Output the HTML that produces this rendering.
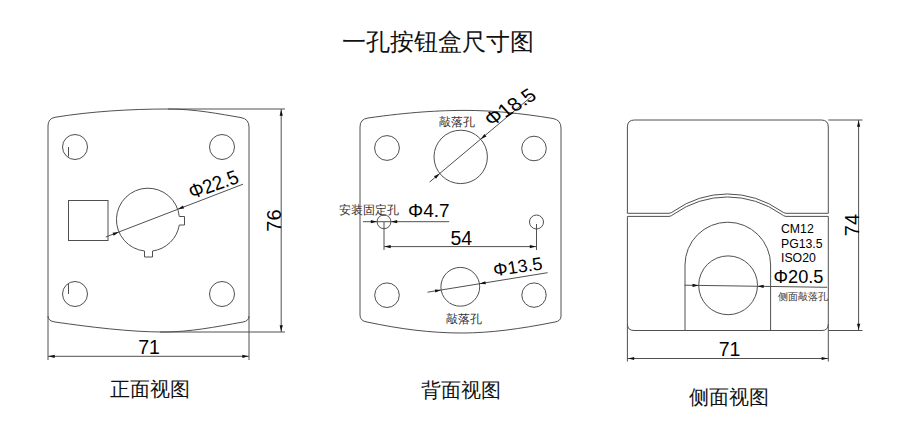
<!DOCTYPE html>
<html><head><meta charset="utf-8">
<style>
html,body{margin:0;padding:0;background:#fff;width:910px;height:437px;overflow:hidden}
svg{display:block}
.l{fill:none;stroke:#505050;stroke-width:1}
.a{fill:#111;stroke:none}
.n{font-family:"Liberation Sans",sans-serif;fill:#000}
.c{font-family:"Liberation Serif",serif;fill:#111}
.s{font-family:"Liberation Serif",serif;fill:#333}
</style></head><body>
<svg width="910" height="437" viewBox="0 0 910 437">
<text class="c" x="342" y="50" font-size="24">一孔按钮盒尺寸图</text>
<path class="l" d="M48 126 Q48 118.5 55 117.3 C90 111.5 130 109 168 109 C195 109 220 114 241 117.6 Q249 119 249 127 L249 316 Q249 321 243 322 C215 327 190 332 163 332 C130 332 90 327 55 322 Q48 321 48 316 Z"/>
<circle class="l" cx="75" cy="147" r="12.5"/>
<circle class="l" cx="222" cy="147" r="12.5"/>
<circle class="l" cx="75" cy="294" r="12.5"/>
<circle class="l" cx="222" cy="294" r="12.5"/>
<path class="l" d="M68.5 147V156.5M68.5 284V294"/>
<rect class="l" x="68.5" y="200.5" width="39.5" height="40"/>
<path class="l" d="M179.3 216.5 H184.5 V225 H179.3 M144.5 251 V257 H152.5 V251"/>
<path class="l" d="M179.3 216.5 A31.5 31.5 0 1 0 144.5 251 M152.5 251 A31.5 31.5 0 0 0 179.3 225"/>
<path class="l" d="M105.8 237 L243 184.2"/>
<path class="a" d="M118.94 231.94L113.72 235.67L112.57 232.68Z"/>
<path class="a" d="M177.71 209.33L182.92 205.61L184.07 208.59Z"/>
<text class="n" font-size="20" transform="translate(192 199) rotate(-19) skewX(4) scale(0.93 1)">Φ22.5</text>
<path class="l" d="M168 109H285M160 332H285M281.2 109V332"/>
<path class="a" d="M281.20 109.50L282.80 115.70L279.60 115.70Z"/>
<path class="a" d="M281.20 331.50L279.60 325.30L282.80 325.30Z"/>
<path class="l" d="M48 316V360M249 316V360M48 356.3H249"/>
<path class="a" d="M48.50 356.30L54.70 354.70L54.70 357.90Z"/>
<path class="a" d="M248.50 356.30L242.30 357.90L242.30 354.70Z"/>
<text class="n" font-size="19.5" x="149" y="354" text-anchor="middle">71</text>
<text class="n" font-size="20" transform="translate(281 220.5) rotate(-90)" text-anchor="middle">76</text>
<path class="l" d="M360 127 Q360 119 368 118 C410 112 440 110.4 466 110.4 C490 110.4 520 113 553 118.5 Q561 120 561 128 L561 316 Q561 321 555 322 C520 329 490 333 462 333 C430 333 400 329 367 322 Q360 321 360 315 Z"/>
<circle class="l" cx="387" cy="148" r="12.4"/>
<circle class="l" cx="534" cy="148.5" r="12.3"/>
<circle class="l" cx="387" cy="295.2" r="12.3"/>
<circle class="l" cx="534" cy="295.1" r="12.2"/>
<circle class="l" cx="460.7" cy="156.9" r="26.7"/>
<circle class="l" cx="460.3" cy="286.8" r="19.4"/>
<circle class="l" cx="384" cy="221.8" r="6.9"/>
<circle class="l" cx="536.5" cy="222" r="7"/>
<text class="s" font-size="11.8" x="439" y="126">敲落孔</text>
<text class="s" font-size="11.8" x="446" y="322.6">敲落孔</text>
<text class="s" font-size="11.5" x="338.5" y="213.8">安装固定孔</text>
<path class="l" d="M429.6 182 L531.5 96.5"/>
<path class="a" d="M439.76 173.47L436.04 178.68L433.99 176.23Z"/>
<path class="a" d="M480.66 139.16L484.38 133.95L486.43 136.40Z"/>
<text class="n" font-size="20" transform="translate(491.5 126.8) rotate(-32) skewX(10)">Φ18.5</text>
<path class="l" d="M363 221.7H449.2M384 222V250M536.5 224V250M384 246.6H536.5"/>
<path class="a" d="M377.00 221.70L370.80 223.30L370.80 220.10Z"/>
<path class="a" d="M391.00 221.70L397.20 220.10L397.20 223.30Z"/>
<path class="a" d="M384.50 246.60L390.70 245.00L390.70 248.20Z"/>
<path class="a" d="M536.00 246.60L529.80 248.20L529.80 245.00Z"/>
<text class="n" font-size="19" x="408" y="217">Φ4.7</text>
<text class="n" font-size="19.5" x="450.5" y="244.8">54</text>
<path class="l" d="M427.5 292.2 L547.6 272.7"/>
<path class="a" d="M441.16 289.98L435.30 292.55L434.79 289.40Z"/>
<path class="a" d="M479.46 283.76L485.32 281.19L485.84 284.35Z"/>
<text class="n" font-size="18" transform="translate(494.3 276.2) rotate(-8) skewX(1)">Φ13.5</text>
<path class="l" d="M627.4 213.3 V127 Q627.4 120 634.4 120 H821.3 Q828.3 120 828.3 127 V213.3 H786 Q784 213.3 781 211 A92.6 92.6 0 0 0 674 211 Q671 213.3 669 213.3 Z"/>
<path class="l" d="M627.4 216.4 V324 Q627.4 330.5 634 330.5 H822 Q828.3 330.5 828.3 324 V216.4 H786 Q784 216.4 781 214 A92.6 92.6 0 0 0 674 214 Q671 216.4 669 216.4 Z"/>
<path class="l" d="M685 330.5 V265 A42.8 42.8 0 0 1 770.6 265 V330.5"/>
<circle class="l" cx="728.1" cy="285.3" r="29.4"/>
<path class="l" d="M684.6 285.2 L827.2 287.3"/>
<path class="a" d="M698.70 285.41L692.48 286.92L692.52 283.72Z"/>
<path class="a" d="M757.48 286.27L763.71 284.76L763.66 287.96Z"/>
<g transform="translate(781 233.3) scale(0.91 1)"><text class="n" font-size="13.5" x="0" y="0">CM12</text><text class="n" font-size="13.5" x="0" y="14.3">PG13.5</text><text class="n" font-size="13.5" x="0" y="28.3">ISO20</text></g>
<text class="n" font-size="18.2" x="773.5" y="282.7">Φ20.5</text>
<text class="s" font-size="10" x="778" y="299.8">侧面敲落孔</text>
<path class="l" d="M828.3 120H862.5M828.3 330.5H862.5M858.6 120V330.5"/>
<path class="a" d="M858.60 120.50L860.20 126.70L857.00 126.70Z"/>
<path class="a" d="M858.60 330.00L857.00 323.80L860.20 323.80Z"/>
<text class="n" font-size="20" transform="translate(858.5 225) rotate(-90)" text-anchor="middle">74</text>
<path class="l" d="M627.4 324V361.5M828.3 324V361.5M627.4 358.5H828.3"/>
<path class="a" d="M628.00 358.50L634.20 356.90L634.20 360.10Z"/>
<path class="a" d="M827.80 358.50L821.60 360.10L821.60 356.90Z"/>
<text class="n" font-size="19.5" x="729.5" y="356.3" text-anchor="middle">71</text>
<text class="c" font-size="19.7" x="110" y="396">正面视图</text>
<text class="c" font-size="19.7" x="421" y="397.3">背面视图</text>
<text class="c" font-size="19.7" x="688.5" y="404">侧面视图</text>
</svg>
</body></html>
